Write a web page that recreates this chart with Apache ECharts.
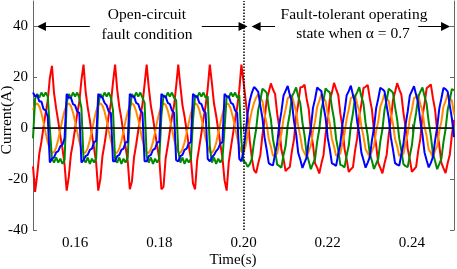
<!DOCTYPE html>
<html>
<head>
<meta charset="utf-8">
<style>
  html, body { margin: 0; padding: 0; background: #fff; }
  #chart { width: 457px; height: 269px; }
</style>
<script src="https://cdn.jsdelivr.net/npm/echarts@6.0.0/dist/echarts.min.js"></script>
</head>
<body>
<div id="chart"></div>
<script>
const T_START = 0.15;
const T_STEP = 0.0005;
const X_TICKS = [0.16, 0.18, 0.20, 0.22, 0.24];
const Y_TICKS = [-40, -20, 0, 20, 40];
const FAULT_TIME = 0.2014;

const RED = [
  -15, -25, -18.3, -10, -5.3, 0.4, 6, 10.8, 19.8, 24.5,
  13.8, 7.8, 2.7, -3.1, -8, -14.3, -24.5, -19.1, -10.4, -5.7,
  -0.1, 5.6, 10.3, 18.9, 25, 14.5, 8.1, 3.2, -2.6, -7.7,
  -13.6, -24.5, -20, -10.9, -6.1, -0.5, 5.2, 9.8, 18, 25,
  15.2, 8.4, 3.7, -2.1, -7.4, -12.9, -24, -20.9, -11.4, -6.5,
  -0.9, 4.8, 9.4, 17.2, 25, 16, 8.8, 4.1, -1.6, -7,
  -12.1, -24, -23, -11.9, -6.9, -1.3, 4.4, 8.9, 16.4, 25,
  16.7, 9.1, 4.6, -1, -6.8, -11.8, -21.7, -24, -12.5, -7.2,
  -1.9, 3.9, 8.8, 15.6, 25, 17.6, 9.6, 5, -0.6, -6.2,
  -11.6, -20.5, -24.5, -13.3, -7.6, -2.3, 3.4, 8.3, 14.9, 25,
  18.5, 11, 4, -5, -12, -16.5, -17.6, -13.8, -10.5, -2.6,
  3.2, 11.1, 14.2, 17.6, 15.2, 13.5, 5.7, 0.3, -8.4, -12.0,
  -16.8, -15.9, -15.2, -9.0, -4.3, 4.6, 9.6, 16.1, 16.2, 17.1,
  11.6, 7.5, -1.3, -6.4, -13.8, -15.5, -17.8, -13.9, -10.6, -2.4,
  3.1, 11.2, 14.0, 17.8, 15.4, 13.1, 5.8, 0.5, -8.1, -12.2,
  -17.2, -16.1, -15.3, -8.8, -4.0, 4.8, 9.5, 15.8, 16.3, 17.0,
  11.7, 7.4, -1.2, -6.5, -13.7, -15.6, -17.7, -13.8, -10.5, -2.5,
  3.2, 11.0, 14.2, 17.7, 15.3, 13.2, 5.9, 0.4, -8.0, -12.3,
  -17.1, -16.2, -15.2, -8.9, -4.1, 4.7, 9.6, 15.7, 16.4, 17.2,
  11.8, 7.3, -1.1, -6.6, -13.6, -15.7, -17.6, -13.7, -10.4, -2.6,
  3.3
];

const GREEN = [
  -4, 11.5, 13.5, 12, 14, 12.5, 14, 12.5, 0, -12,
  -13.5, -11.5, -13.5, -12, -14, -12.5, 10, 13.5, 12, 14,
  12.5, 14, 12, 8, -12, -13.5, -11.5, -14, -12, -13.5,
  -12, 9, 13.5, 12, 14, 12.5, 14, 12, 7, -12.5,
  -13.5, -11.5, -14, -12, -13.5, -11.5, 7, 13.5, 12, 14,
  12.5, 14, 12, 10, -11, -13.5, -11.5, -14, -12, -13.5,
  -12, 5, 13, 12, 14, 12.5, 14, 12, 11, -9,
  -13.5, -11.5, -14, -12, -13.5, -12, 3, 13, 12, 14,
  12.5, 14, 12, 12.5, -7, -13.5, -11.5, -14, -12, -13.5,
  -12, 0, 12.5, 12, 14, 12.5, 14, 12, 13, -5,
  -13, -13.5, -15.2, -14.1, -11.9, -5.4, -0.4, 7.2, 11.0, 15.5,
  14.8, 14.0, 8.1, 3.6, -4.3, -8.7, -14.3, -14.8, -15.5, -10.6,
  -6.9, 1.0, 5.8, 12.5, 14.1, 16.0, 12.6, 9.7, 2.2, -2.8,
  -10.1, -12.9, -16.1, -13.9, -12.0, -5.3, -0.5, 7.4, 11.0, 15.6,
  14.7, 14.1, 8.2, 3.7, -4.2, -8.6, -14.4, -14.7, -15.4, -10.7,
  -6.8, 1.1, 5.9, 12.4, 14.2, 16.1, 12.5, 9.6, 2.1, -2.9,
  -10.2, -12.8, -16.0, -14.0, -12.1, -5.2, -0.4, 7.3, 11.1, 15.5,
  14.8, 14.0, 8.3, 3.5, -4.1, -8.8, -14.2, -14.9, -15.3, -10.8,
  -6.7, 1.0, 6.0, 12.3, 14.3, 16.0, 12.7, 9.5, 2.3, -3.0,
  -10.0, -12.9, -16.1, -14.1, -12.0, -5.4, -0.3, 7.2, 11.2, 15.4,
  14.9
];

const BLUE = [
  14, 12.5, 13, 10.5, 10.5, 7.5, 7, 4.5, -13.5, -12,
  -11.5, -9.5, -9, -7, -6.5, -4, 13.5, 12, 12, 9.5,
  9, 6.5, 6, -13.5, -12.5, -11, -10.5, -8.5, -8, -5.5,
  -5, 13.5, 12.5, 12, 10, 9, 6.5, 6, -13, -13,
  -11, -10.5, -8.5, -8, -5.5, -5.5, 13.5, 12.5, 12.5, 10,
  9.5, 7, 6, -13, -13, -11, -10.5, -8.5, -8, -5.5,
  -5.5, 13.5, 12.5, 12.5, 10, 9.5, 7, 6, -12.5, -13,
  -11, -10.5, -8.5, -8, -6, -5.5, 13.5, 12.5, 12.5, 10,
  9.5, 7, 6, -12, -13, -11.5, -10.5, -9, -8, -6,
  -5.5, 13.5, 12.5, 12.5, 10, 9.5, 7, 6, -12, -13,
  -9, -2, 6, 11, 14, 16.2, 15.4, 14.3, 8.8, 4.0,
  -3.6, -8.3, -13.7, -14.3, -14.6, -10.2, -6.1, 1.4, 6.5, 12.8,
  14.7, 16.6, 13.1, 10.2, 2.7, -2.2, -9.7, -12.4, -15.6, -13.4,
  -11.5, -4.8, 0.1, 7.9, 11.5, 16.0, 15.2, 14.6, 8.7, 4.1,
  -3.7, -8.2, -13.8, -14.2, -14.8, -10.1, -6.2, 1.5, 6.4, 12.9,
  14.6, 16.7, 13.0, 10.1, 2.6, -2.3, -9.6, -12.5, -15.5, -13.5,
  -11.4, -4.9, 0.2, 7.8, 11.6, 15.9, 15.3, 14.5, 8.8, 4.0,
  -3.6, -8.3, -13.7, -14.3, -14.7, -10.2, -6.1, 1.4, 6.5, 12.8,
  14.7, 16.5, 13.2, 10.0, 2.8, -2.4, -9.5, -12.6, -15.4, -13.6,
  -11.3, -5.0, 0.3, 7.7, 11.7, 15.8, 15.4, 14.4, 8.9, 3.9,
  -3.5
];

const ORANGE = [
  7.2, 9.3, 9.8, 8.6, 6.0, 2.3, -1.8, -5.5, -8.3, -9.7,
  -9.4, -7.6, -4.4, -0.5, 3.5, 6.9, 9.1, 9.8, 8.8, 6.2,
  2.6, -1.4, -5.2, -8.1, -9.6, -9.5, -7.8, -4.7, -0.8, 3.2,
  6.7, 9.0, 9.8, 8.9, 6.5, 3.0, -1.1, -4.9, -7.9, -9.6,
  -9.6, -8.0, -5.0, -1.1, 2.9, 6.4, 8.9, 9.8, 9.0, 6.7,
  3.3, -0.7, -4.6, -7.7, -9.5, -9.7, -8.2, -5.3, -1.5, 2.6,
  6.2, 8.7, 9.8, 9.2, 7.0, 3.6, -0.4, -4.3, -7.5, -9.4,
  -9.7, -8.3, -5.5, -1.8, 2.2, 5.9, 8.6, 9.8, 9.3, 7.2,
  3.9, 0, -4.0, -7.3, -9.3, -9.7, -8.5, -5.8, -2.1, 1.9,
  5.6, 8.4, 9.7, 9.4, 7.4, 4.2, 0.3, -3.7, -7.0, -9.2,
  -9.8, -7, -2, 3, 7, 10, 12, 13.4, 12.0, 10.6,
  5.6, 1.8, -4.2, -7.2, -10.8, -10.5, -10.0, -5.8, -2.2, 3.7,
  7.4, 11.8, 12.4, 13.0, 9.6, 6.6, 0.8, -3.2, -8.2, -9.8,
  -11.5, -9.0, -6.8, -1.2, 2.7, 8.4, 10.8, 13.4, 12.0, 10.6,
  5.6, 1.8, -4.2, -7.2, -10.8, -10.5, -10.0, -5.8, -2.2, 3.7,
  7.4, 11.8, 12.3, 13.1, 9.5, 6.7, 0.7, -3.1, -8.3, -9.7,
  -11.6, -8.9, -6.9, -1.1, 2.6, 8.5, 10.7, 13.5, 11.9, 10.7,
  5.5, 1.9, -4.3, -7.1, -10.9, -10.4, -10.1, -5.7, -2.3, 3.8,
  7.3, 11.9, 12.2, 13.2, 9.4, 6.8, 0.6, -3.0, -8.4, -9.6,
  -11.7, -8.8, -7.0, -1.0, 2.5, 8.6, 10.6, 13.6, 11.8, 10.8,
  5.4
];

(function () {

  const dom = document.getElementById("chart");
  const chart = echarts.init(dom);
  const FONT = "Liberation Serif, 'Times New Roman', serif";
  const AXIS_COLOR = "#666";

  const toPairs = (arr) => arr.map((v, i) => [+(T_START + i * T_STEP).toFixed(4), v]);

  function trace(name, values, color, extra) {
    return Object.assign({
      name,
      type: "line",
      data: toPairs(values),
      symbol: "none",
      silent: true,
      animation: false,
      lineStyle: { color, width: 2 },
      itemStyle: { color }
    }, extra || {});
  }

  // arrows at the 40 A level, both sides of the fault line
  const arrow = (from, to) => [{ coord: [from, 40] }, { coord: [to, 40] }];

  const axisCommon = {
    type: "value",
    axisLine: { show: true, lineStyle: { color: AXIS_COLOR, width: 1 } },
    splitLine: { show: false }
  };

  const textStyle = (size) => ({
    font: size + "px " + FONT, fill: "#000",
    align: "center", verticalAlign: "middle",
    textAlign: "center", textVerticalAlign: "middle"
  });

  const option = {
    backgroundColor: "#fff",
    animation: false,
    grid: { left: 33, right: 3, top: 1, bottom: 39 },
    xAxis: [
      Object.assign({}, axisCommon, {
        min: 0.15, max: 0.25, position: "bottom",
        axisTick: { inside: true, length: 4, customValues: X_TICKS, lineStyle: { color: AXIS_COLOR } },
        axisLabel: {
          customValues: X_TICKS, margin: 6,
          formatter: (v) => v.toFixed(2),
          color: "#000", fontFamily: FONT, fontSize: 15
        }
      }),
      Object.assign({}, axisCommon, {
        min: 0.15, max: 0.25, position: "top",
        axisTick: { inside: true, length: 4, customValues: X_TICKS, lineStyle: { color: AXIS_COLOR } },
        axisLabel: { show: false }
      })
    ],
    yAxis: [
      Object.assign({}, axisCommon, {
        min: -40, max: 50, position: "left",
        axisTick: { inside: true, length: 4, customValues: Y_TICKS, lineStyle: { color: AXIS_COLOR } },
        axisLabel: { customValues: Y_TICKS, margin: 5, color: "#000", fontFamily: FONT, fontSize: 15 }
      }),
      Object.assign({}, axisCommon, {
        min: -40, max: 50, position: "right",
        axisTick: { inside: true, length: 4, customValues: Y_TICKS, lineStyle: { color: AXIS_COLOR } },
        axisLabel: { show: false }
      })
    ],
    series: [
      trace("Phase A", RED, "#ff0000", {
        markLine: {
          silent: true,
          animation: false,
          symbol: ["none", "triangle"],
          symbolSize: 9,
          label: { show: false },
          lineStyle: { color: "#000", width: 1, type: "solid" },
          data: [
            arrow(0.1635, 0.1520),
            arrow(0.1901, 0.1999),
            arrow(0.2075, 0.2030),
            arrow(0.2415, 0.2480)
          ]
        }
      }),
      trace("Phase D", ORANGE, "#ff8c00"),
      trace("Phase C", GREEN, "#008a00"),
      trace("Phase B", BLUE, "#0000ff", {
        markLine: {
          silent: true,
          animation: false,
          symbol: ["none", "none"],
          label: { show: false },
          data: [
            { yAxis: 0, lineStyle: { color: "#000", width: 1.5, type: "solid" } },
            { xAxis: FAULT_TIME, lineStyle: { color: "#000", width: 1.5, type: "dotted" } }
          ]
        }
      })
    ],
    graphic: [
      { type: "text", x: 147, y: 15, style: Object.assign({ text: "Open-circuit" }, textStyle(15.5)) },
      { type: "text", x: 147, y: 35, style: Object.assign({ text: "fault condition" }, textStyle(15.5)) },
      { type: "text", x: 354, y: 15, style: Object.assign({ text: "Fault-tolerant operating" }, textStyle(15.5)) },
      { type: "text", x: 353, y: 34, style: Object.assign({ text: "state when \u03b1 = 0.7" }, textStyle(15.5)) },
      { type: "text", x: 233, y: 260, style: Object.assign({ text: "Time(s)" }, textStyle(15)) },
      { type: "text", x: 7, y: 120, rotation: Math.PI / 2, style: Object.assign({ text: "Current(A)" }, textStyle(15.5)) }
    ]
  };

  chart.setOption(option);

})();
</script>
</body>
</html>
